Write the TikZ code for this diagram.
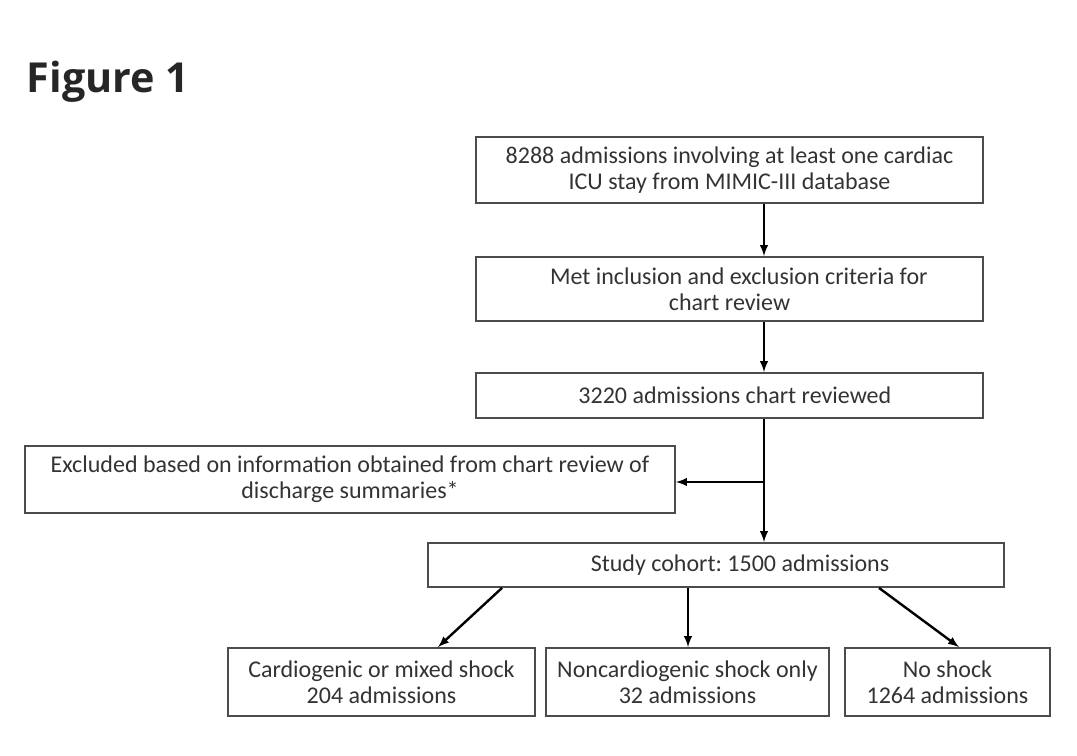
\documentclass[tikz,border=0pt]{standalone}
\usepackage{fontspec}
\setmainfont{Carlito}
\newfontfamily\titlefont{Open Sans}
\usetikzlibrary{positioning}
\usetikzlibrary{calc}
\frenchspacing
\begin{document}
\begin{tikzpicture}[x=0.75pt,y=-0.75pt]
\tikzstyle{box} =[rectangle,draw=black!70,line width=1.4pt,text=black!80,align=center,inner sep=0pt,font=\fontsize{18}{19.5}\selectfont]
\tikzstyle{flow} =[draw,black,line width=1.8pt,-latex]
\useasboundingbox (0,0) rectangle (1077,756);
\node[anchor=west,text=black!85,font=\titlefont\bfseries\fontsize{31}{34}\selectfont](title) at (22,82){Figure 1};

\node[box,minimum width=507*0.75pt,minimum height=66*0.75pt](top) at (729.5,170){8288 admissions involving at least one cardiac\\ICU stay from MIMIC-III database};
\node[box,minimum width=507*0.75pt,minimum height=64*0.75pt](met) at (729.5,289){\hspace*{14pt}Met inclusion and exclusion criteria for\\chart review};
\node[box,minimum width=507*0.75pt,minimum height=45*0.75pt](rev) at (729.5,395.5){\hspace*{8pt}3220 admissions chart reviewed};
\node[box,minimum width=650*0.75pt,minimum height=67*0.75pt](excl) at (350,479.5){Excluded based on information obtained from chart review of\\discharge summaries*};
\node[box,minimum width=576*0.75pt,minimum height=44*0.75pt](cohort) at (716,565){\hspace*{36pt}Study cohort: 1500 admissions};
\node[box,minimum width=307*0.75pt,minimum height=68*0.75pt](cms) at (381.5,682){Cardiogenic or mixed shock\\204 admissions};
\node[box,minimum width=283*0.75pt,minimum height=68*0.75pt](ncs) at (687.5,682){Noncardiogenic shock only\\32 admissions};
\node[box,minimum width=205*0.75pt,minimum height=68*0.75pt](nos) at (947.5,682){No shock\\1264 admissions};

%spine of the flow
\coordinate (spine) at (764,0);
\coordinate (branch) at (764,482);
\draw[flow] (top.south -| spine)--(met.north -| spine);
\draw[flow] (met.south -| spine)--(rev.north -| spine);
\draw[flow] (rev.south -| spine)--(cohort.north -| spine);
\draw[flow] (branch)--(excl.east |- branch);

%split of the cohort
\coordinate (l1) at (502,0);
\coordinate (l2) at (438,0);
\coordinate (m1) at (688,0);
\coordinate (r1) at (879,0);
\coordinate (r2) at (959,0);
\draw[flow] (cohort.south -| l1)--(cms.north -| l2);
\draw[flow] (cohort.south -| m1)--(ncs.north -| m1);
\draw[flow] (cohort.south -| r1)--(nos.north -| r2);
\end{tikzpicture}
\end{document}
